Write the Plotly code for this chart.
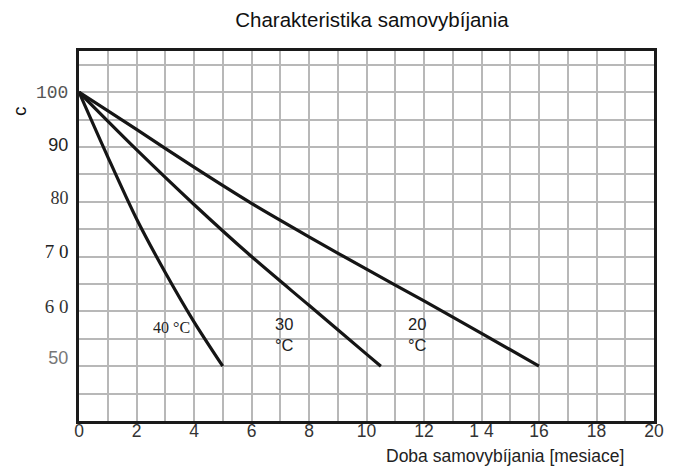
import plotly.graph_objects as go

# Data
x40 = [0, 1, 2, 3, 4, 5]
y40 = [100, 88.2, 76.9, 67.1, 58.1, 50]
x30 = [0, 1, 2, 4, 6, 8, 10, 10.5]
y30 = [100, 94.7, 89.5, 79.5, 70.0, 61.1, 52.2, 50]
x20 = [0, 2, 4, 6, 8, 10, 12, 14, 16]
y20 = [100, 93.2, 86.3, 79.7, 73.6, 67.7, 61.9, 56.0, 50]

x_ticks = [0, 2, 4, 6, 8, 10, 12, 14, 16, 18, 20]
x_ticktext = ["0", "2", "4", "6", "8", "10", "12", "1 4", "16", "18", "20"]
y_tickvals = [100, 90.5, 80.7, 70.8, 60.9, 51.5]
y_ticktext = [
    '<span style="font-family:Liberation Mono;color:#555">100</span>',
    '<span style="font-family:Liberation Sans;color:#222">90</span>',
    '<span style="font-family:Liberation Serif;color:#333">80</span>',
    '<span style="font-family:Liberation Serif;color:#222;font-size:19px">7 0</span>',
    '<span style="font-family:Liberation Serif;color:#333;font-size:19px">6 0</span>',
    '<span style="font-family:Liberation Sans;color:#777">50</span>',
]

title_text = "Charakteristika samovybíjania"
x_title = "Doba samovybíjania [mesiace]"
y_title = "c"
labels = ["40 °C", "30<br>°C", "20<br>°C"]

fig = go.Figure()
line_style = dict(color="#151515", width=3.2, shape="spline", smoothing=0.8)
for xs, ys in [(x40, y40), (x30, y30), (x20, y20)]:
    fig.add_trace(go.Scatter(x=xs, y=ys, mode="lines", line=line_style,
                             hoverinfo="skip", showlegend=False))

fig.update_layout(
    width=675, height=467,
    margin=dict(l=79, r=21, t=51, b=46),
    paper_bgcolor="white", plot_bgcolor="white",
    font=dict(family="Liberation Sans, Arial, sans-serif", color="#222"),
    title=dict(text=title_text, x=372 / 675, xanchor="center",
               y=1 - 20 / 467, yanchor="middle", yref="container",
               font=dict(size=20.5, color="#111")),
    showlegend=False,
)

fig.update_xaxes(
    range=[0, 20], tickmode="array", tickvals=x_ticks, ticktext=x_ticktext,
    showgrid=False, zeroline=False,
    showline=True, linecolor="#1a1a1a", linewidth=3, mirror=True,
    ticks="", tickfont=dict(size=17.5, color="#333"),
    ticklabelstandoff=-8,
    minor=dict(tickmode="linear", tick0=0, dtick=1, showgrid=True,
               gridcolor="#b8b8b8", gridwidth=1.5, ticks=""),
)
fig.update_yaxes(
    range=[40, 107.5], tickmode="array", tickvals=y_tickvals, ticktext=y_ticktext,
    showgrid=False, zeroline=False,
    showline=True, linecolor="#1a1a1a", linewidth=3, mirror=True,
    ticks="", tickfont=dict(size=18, color="#333"),
    ticklabelstandoff=4,
    minor=dict(tickmode="linear", tick0=0, dtick=5, showgrid=True,
               gridcolor="#b8b8b8", gridwidth=1.5, ticks=""),
)

fig.add_annotation(text=y_title, xref="paper", yref="paper",
                   x=(19 - 79) / 575, y=(421 - 111) / 370,
                   xanchor="center", yanchor="middle", textangle=-90,
                   showarrow=False, font=dict(size=19, color="#111"))
fig.add_annotation(text=x_title, xref="paper", yref="paper",
                   x=(626 - 79) / 575, y=-(456 - 421) / 370,
                   xanchor="right", yanchor="middle",
                   showarrow=False, font=dict(size=17.5, color="#222"))

fig.add_annotation(text=labels[0], x=3.2, y=57.0, xref="x", yref="y",
                   showarrow=False, xanchor="center", yanchor="middle",
                   font=dict(family="Liberation Serif", size=16, color="#222"))
fig.add_annotation(text=labels[1], x=6.75, y=55.7, xref="x", yref="y",
                   showarrow=False, xanchor="left", yanchor="middle", align="left",
                   font=dict(size=16.5, color="#222"))
fig.add_annotation(text=labels[2], x=11.37, y=55.7, xref="x", yref="y",
                   showarrow=False, xanchor="left", yanchor="middle", align="left",
                   font=dict(size=16.5, color="#222"))

fig.write_html("out.html", config={"displayModeBar": False},
               post_script="document.body.style.margin='0';")
